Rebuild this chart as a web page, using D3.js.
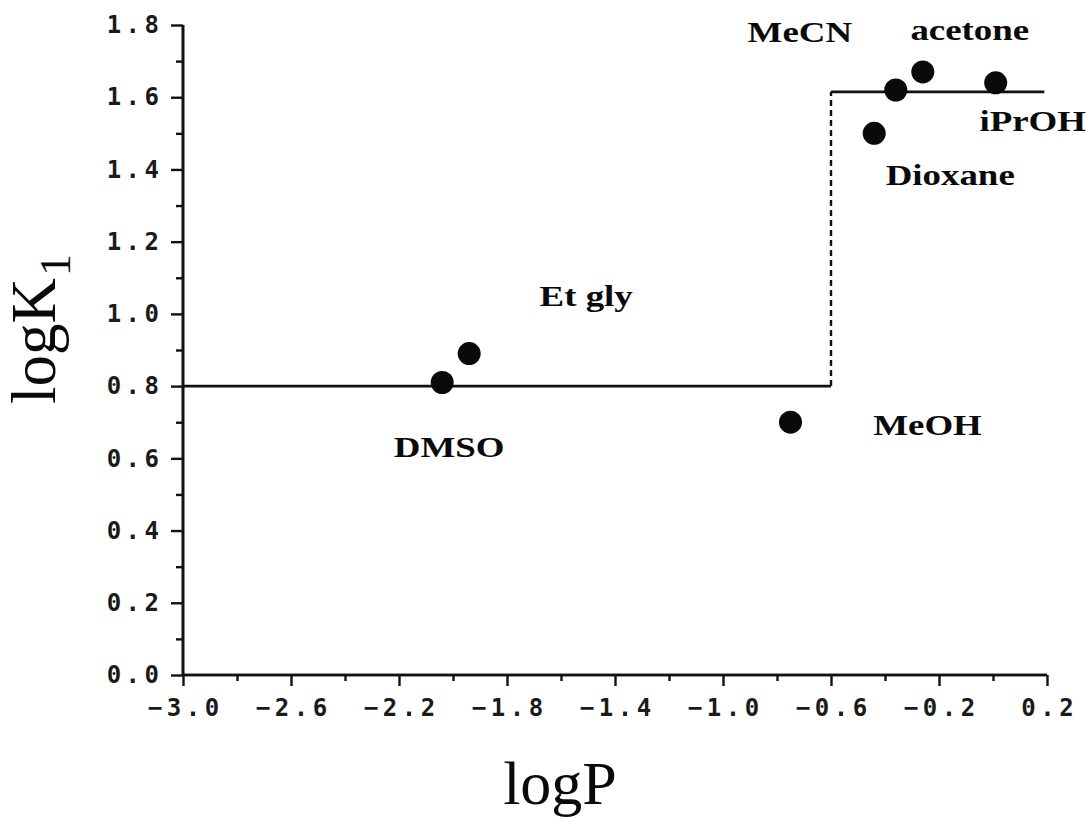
<!DOCTYPE html>
<html>
<head>
<meta charset="utf-8">
<script src="https://cdn.jsdelivr.net/npm/d3@7"></script>
<style>
  html, body { margin: 0; padding: 0; background: #fff; }
  svg { display: block; }
  .tick text { font-family: "DejaVu Sans Mono", "Liberation Mono", monospace; }
</style>
</head>
<body>
<svg id="chart" width="1086" height="819"></svg>
<script>
// Solvents: logP of the solvent vs. logK1
const solvents = ["DMSO", "Et gly", "MeOH", "Dioxane", "MeCN", "acetone", "iPrOH"];
const logP     = [-2.04, -1.94, -0.75, -0.44, -0.36, -0.26, 0.01];
const logK1    = [0.81, 0.89, 0.70, 1.50, 1.62, 1.67, 1.64];

// Step model: two plateaus joined by a dashed jump
const lowLevel  = [[-3.0, 0.80], [-0.60, 0.80]];
const highLevel = [[-0.60, 1.615], [0.19, 1.615]];
const jump      = [[-0.60, 0.80], [-0.60, 1.615]];

// Axis ticks
const xMajor = [-3.0, -2.6, -2.2, -1.8, -1.4, -1.0, -0.6, -0.2, 0.2];
const xMinor = [-2.8, -2.4, -2.0, -1.6, -1.2, -0.8, -0.4, 0.0];
const yMajor = [0.0, 0.2, 0.4, 0.6, 0.8, 1.0, 1.2, 1.4, 1.6, 1.8];
const yMinor = [0.1, 0.3, 0.5, 0.7, 0.9, 1.1, 1.3, 1.5, 1.7];

// Label placement relative to each point (pixels: centre x, baseline y)
const labelOffset = {
  "DMSO":    [7, 74],
  "Et gly":  [117, -48],
  "MeOH":    [137, 13],
  "Dioxane": [76, 52],
  "MeCN":    [-96, -48],
  "acetone": [47, -32],
  "iPrOH":   [37, 48]
};

const svg = d3.select("#chart");
const x = d3.scaleLinear().domain([-3.0, 0.2]).range([183, 1047]);
const y = d3.scaleLinear().domain([0, 1.8]).range([675, 25]);

const tickFont = 24, tickSpacing = 4.5;

// Y axis
const yAxis = svg.append("g").attr("transform", `translate(${x(-3.0)},0)`);
yAxis.call(d3.axisLeft(y).tickValues(yMajor).tickSize(12).tickPadding(12)
  .tickFormat(d3.format(".1f")));
yAxis.append("g").call(d3.axisLeft(y).tickValues(yMinor).tickSize(7).tickFormat(""));
yAxis.selectAll(".domain").attr("d", `M0,${y(0)}V${y(1.8)}`);

// X axis
const xAxis = svg.append("g").attr("transform", `translate(0,${y(0)})`);
xAxis.call(d3.axisBottom(x).tickValues(xMajor).tickSize(11).tickPadding(13)
  .tickFormat(d3.format(".1f")));
xAxis.append("g").call(d3.axisBottom(x).tickValues(xMinor).tickSize(6).tickFormat(""));
xAxis.selectAll(".domain").attr("d", `M${x(-3.0)},0H${x(0.2)}`);

svg.selectAll(".domain").attr("stroke", "#111").attr("stroke-width", 2.6);
svg.selectAll(".tick line").attr("stroke", "#111").attr("stroke-width", 2.4);
svg.selectAll(".tick text")
  .attr("font-size", tickFont)
  .attr("font-weight", "bold")
  .attr("letter-spacing", tickSpacing + "px")
  .attr("fill", "#1a1a1a");
// letter-spacing adds a trailing gap; shift labels to keep them centred / flush
xAxis.selectAll(".tick text").attr("dx", tickSpacing / 2);
yAxis.selectAll(".tick text").attr("dx", tickSpacing);

// Step lines
const line = d3.line().x(d => x(d[0])).y(d => y(d[1]));
svg.append("path").attr("d", line(lowLevel))
  .attr("fill", "none").attr("stroke", "#111").attr("stroke-width", 2.8);
svg.append("path").attr("d", line(highLevel))
  .attr("fill", "none").attr("stroke", "#111").attr("stroke-width", 2.8);
svg.append("path").attr("d", line(jump))
  .attr("fill", "none").attr("stroke", "#111").attr("stroke-width", 2.4)
  .attr("stroke-dasharray", "6,4");

// Points
const pts = solvents.map((s, i) => ({ name: s, px: logP[i], py: logK1[i] }));
svg.append("g").selectAll("circle").data(pts).join("circle")
  .attr("cx", d => x(d.px)).attr("cy", d => y(d.py))
  .attr("r", 11.5).attr("fill", "#0a0a0a");

// Point labels
svg.append("g").selectAll("text").data(pts).join("text")
  .attr("transform", d => {
    const o = labelOffset[d.name];
    return `translate(${x(d.px) + o[0]},${y(d.py) + o[1]}) scale(1.23,1)`;
  })
  .attr("text-anchor", "middle")
  .attr("font-family", "'Liberation Serif', 'Times New Roman', serif")
  .attr("font-weight", "bold")
  .attr("font-size", 30)
  .attr("fill", "#0a0a0a")
  .text(d => d.name);

// Axis titles
svg.append("text")
  .attr("x", 560).attr("y", 804)
  .attr("text-anchor", "middle")
  .attr("font-family", "'Liberation Serif', 'Times New Roman', serif")
  .attr("font-size", 62)
  .attr("fill", "#0a0a0a")
  .text("logP");

const yt = svg.append("text")
  .attr("transform", "translate(55,404) rotate(-90)")
  .attr("font-family", "'Liberation Serif', 'Times New Roman', serif")
  .attr("font-size", 63)
  .attr("fill", "#0a0a0a");
yt.append("tspan").text("logK");
yt.append("tspan").attr("font-size", 44).attr("dy", 15).attr("dx", 2).text("1");
</script>
</body>
</html>
